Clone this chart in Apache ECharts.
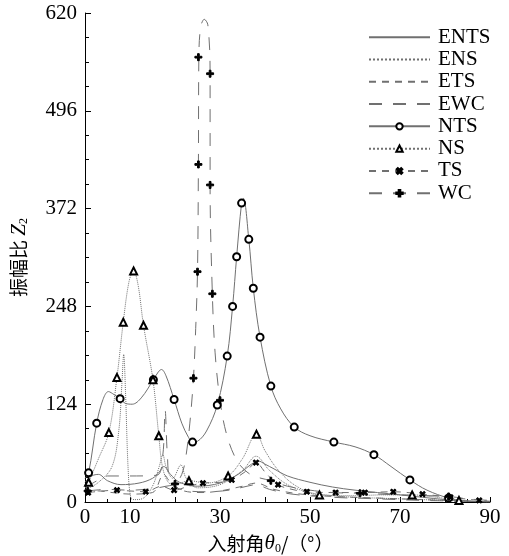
<!DOCTYPE html>
<html lang="zh">
<head>
<meta charset="UTF-8">
<title>振幅比 Z2</title>
<style>
html, body, #chart { margin: 0; padding: 0; width: 100%; height: 100%; background: #fff; overflow: hidden; }
</style>
</head>
<body>
<div id="chart"></div>
<script src="https://cdn.jsdelivr.net/npm/echarts@6/dist/echarts.min.js"></script>
<script>
// [入射角 deg, Z2]
const entsLine = [[0,25],[1.5,33],[3,35],[5,27],[8,22],[12,24],[15,30],[16.5,38],[17.5,45],[19,35],[21,25],[25,20],[30,24],[34,35],[37,48],[38.5,52],[40,48],[42,42],[45,33],[50,25],[55,19],[60,15],[65,12],[70,9],[75,6],[80,3],[85,1],[90,0.5]];
const ensLine = [[0,15],[3,25],[6,45],[7.5,90],[8.2,150],[8.6,187],[9,140],[9.6,40],[10.2,5],[11,3],[13,5],[15,20],[16.5,45],[17.3,60],[18,45],[19.5,30],[21.3,47],[22.5,30],[25,18],[30,22],[35,40],[38,58],[41,40],[45,22],[50,12],[55,8],[60,6],[70,4],[80,2],[90,0]];
const etsLine = [[0,10],[3,14],[6,12],[10,10],[15,12],[17.5,35],[19,25],[22,14],[26,12],[30,14],[35,20],[38,24],[42,16],[48,10],[55,7],[65,5],[75,3],[85,1],[90,0]];
const ewcLine = [[0,18],[3,28],[5,33],[10,33],[16,34],[17.3,60],[17.8,117],[18.3,60],[19,25],[22,15],[27,13],[32,15],[36,20],[38,22],[41,16],[46,10],[55,6],[65,4],[75,2],[85,1],[90,0]];

const ntsLine = [[0,30],[0.8,37],[2.6,100],[4,130],[5.2,140],[6.5,136],[7.8,131],[9,125],[10.5,124],[12.5,132],[15.2,155],[16.3,165],[17,168],[18,160],[19.8,130],[21.5,100],[23,82],[23.9,76],[25,77],[27,90],[29.4,123],[31.6,185],[32.8,248],[33.7,311],[34.8,379],[35.2,385],[36.4,333],[37.4,271],[38.9,209],[41.3,147],[43.5,118],[46.5,95],[50,84],[55.3,76],[60,70],[64.2,60],[68,45],[72.2,28],[76,15],[80.8,5],[84,2],[88,0]];
const ntsMarks = [[0.8,37],[2.6,100],[7.8,131],[15.2,155],[19.8,130],[23.9,76],[29.4,123],[31.6,185],[32.8,248],[33.7,311],[34.8,379],[36.4,333],[37.4,271],[38.9,209],[41.3,147],[46.5,95],[55.3,76],[64.2,60],[72.2,28],[80.8,5]];

const nsLine = [[0.8,25],[3,55],[5.3,88],[7.1,158],[8.5,228],[9.8,280],[10.8,293],[11.8,275],[13,224],[15.1,155],[16.4,84],[17.2,45],[18.5,25],[20,22],[23.1,27],[27,24],[31.8,33],[35,55],[38.1,86],[40,65],[43,40],[47,20],[52.1,9],[60,8],[66,9],[72.7,9],[78,6],[83.1,2],[88,0]];
const nsMarks = [[0.8,25],[5.3,88],[7.1,158],[8.5,228],[10.8,293],[13,224],[15.1,155],[16.4,84],[23.1,27],[31.8,33],[38.1,86],[52.1,9],[72.7,9],[83.1,2]];

const tsLine = [[0.7,12],[4,14],[7.1,15],[10,14],[13.5,13],[17,20],[19.8,15],[23,20],[26.2,24],[30,25],[32.6,28],[36,40],[38,50],[40,38],[42.9,22],[46,16],[49.3,13],[55.7,12],[62.2,12],[68.5,13],[75,10],[81.2,6],[87.6,2],[90,1]];
const tsMarks = [[0.7,12],[7.1,15],[13.5,13],[19.8,15],[26.2,24],[32.6,28],[38,50],[42.9,22],[49.3,13],[55.7,12],[62.2,12],[68.5,13],[75,10],[81.2,6],[87.6,2]];

const wcLine = [[0.6,14],[5,16],[10,15],[15,17],[18,20],[20,23],[21.5,35],[22.4,57],[23.3,100],[24.1,157],[24.6,220],[25,292],[25.2,428],[25.3,564],[25.7,602],[26.5,612],[27.3,605],[27.8,543],[27.8,402],[28.3,264],[28.9,190],[30,129],[31.5,85],[33.7,53],[36,38],[38,32],[41.3,27],[45,20],[50,15],[55,12],[61.1,11],[70,9],[80.8,7],[85,4],[90,2]];
const wcMarks = [[0.6,14],[20,23],[24.1,157],[25,292],[25.2,428],[25.2,564],[27.8,543],[27.8,402],[28.3,264],[30,129],[41.3,27],[61.1,11],[80.8,7]];

const xLabels = [0, 10, 30, 50, 70, 90];
const names = ['ENTS', 'ENS', 'ETS', 'EWC', 'NTS', 'NS', 'TS', 'WC'];

const serif = "'Liberation Serif', 'Times New Roman', serif";
const cjk = "'Noto Sans CJK SC', sans-serif";
const lineColor = '#707070';
const plus = 'path://M3,0H5V3H8V5H5V8H3V5H0V3H3Z';

function curve(name, data, dash, symbol, rotate) {
  return {
    name: name,
    type: 'line',
    data: data,
    smooth: 0.35,
    symbol: symbol || 'none',
    symbolRotate: rotate || 0,
    showSymbol: false,
    lineStyle: { color: lineColor, width: 1, type: dash },
    itemStyle: { color: '#000', borderColor: '#000', borderWidth: 1 },
    z: 2
  };
}

function marks(name, data, symbol, size, rotate) {
  return {
    name: name,
    type: 'scatter',
    data: data,
    symbol: symbol,
    symbolSize: size,
    symbolRotate: rotate || 0,
    itemStyle: { color: '#000', borderColor: '#000', borderWidth: 1, opacity: 1 },
    z: 5
  };
}

// legend: exact curves have no marker
const legendData = names.map(function (n) {
  return n.charAt(0) === 'E' ? { name: n, itemStyle: { opacity: 0 } } : { name: n };
});

const chart = echarts.init(document.getElementById('chart'));
chart.setOption({
  animation: false,
  backgroundColor: '#fff',
  grid: { left: 85, right: 19, top: 13, bottom: 54, outerBoundsMode: 'none' },
  legend: {
    data: legendData,
    orient: 'vertical',
    left: 363,
    top: 21,
    itemWidth: 61,
    itemHeight: 8,
    itemGap: 0,
    textStyle: { fontFamily: serif, fontSize: 21, color: '#000', lineHeight: 22.3, padding: [0, 0, 0, 3] }
  },
  xAxis: {
    type: 'value',
    min: 0,
    max: 90,
    interval: 10,
    name: '入射角{i|θ}{s|0}/（°）',
    nameLocation: 'middle',
    nameGap: 30,
    nameTextStyle: {
      fontFamily: cjk, fontSize: 19, color: '#000', padding: [0, 34, 0, 0],
      rich: {
        i: { fontFamily: serif, fontStyle: 'italic', fontSize: 21, color: '#000' },
        s: { fontFamily: serif, fontSize: 12, color: '#000', padding: [10, 0, 0, 0] }
      }
    },
    axisLine: { lineStyle: { color: '#000', width: 1 } },
    axisTick: { inside: true, length: 5, lineStyle: { color: '#000' } },
    minorTick: { show: true, splitNumber: 2, length: 3, lineStyle: { color: '#000' } },
    splitLine: { show: false },
    axisLabel: {
      margin: 5,
      fontFamily: serif, fontSize: 21, color: '#000',
      formatter: function (v) { return xLabels.indexOf(v) >= 0 ? String(v) : ''; }
    }
  },
  yAxis: {
    type: 'value',
    min: 0,
    max: 620,
    interval: 124,
    name: '振幅比 {i|Z}{s|2}',
    nameLocation: 'middle',
    nameGap: 55,
    nameTextStyle: {
      fontFamily: cjk, fontSize: 19, color: '#000',
      rich: {
        i: { fontFamily: serif, fontStyle: 'italic', fontSize: 21, color: '#000' },
        s: { fontFamily: serif, fontSize: 12, color: '#000', padding: [10, 0, 0, 0] }
      }
    },
    axisLine: { show: true, lineStyle: { color: '#000', width: 1 } },
    axisTick: { show: true, inside: true, length: 6, lineStyle: { color: '#000' } },
    minorTick: { show: true, splitNumber: 4, length: 4, lineStyle: { color: '#000' } },
    splitLine: { show: false },
    axisLabel: { margin: 8, fontFamily: serif, fontSize: 21, color: '#000' }
  },
  series: [
    curve('ENTS', entsLine, 'solid'),
    curve('ENS', ensLine, 'dotted'),
    curve('ETS', etsLine, [7, 6]),
    curve('EWC', ewcLine, [13, 11]),
    curve('NTS', ntsLine, 'solid', 'emptyCircle'),
    curve('NS', nsLine, 'dotted', 'emptyTriangle'),
    curve('TS', tsLine, [7, 6], plus, 45),
    curve('WC', wcLine, [13, 11], plus),
    marks('NTS', ntsMarks, 'emptyCircle', 7),
    marks('NS', nsMarks, 'emptyTriangle', 7),
    marks('TS', tsMarks, plus, 6, 45),
    marks('WC', wcMarks, plus, 7)
  ]
});
</script>
</body>
</html>
